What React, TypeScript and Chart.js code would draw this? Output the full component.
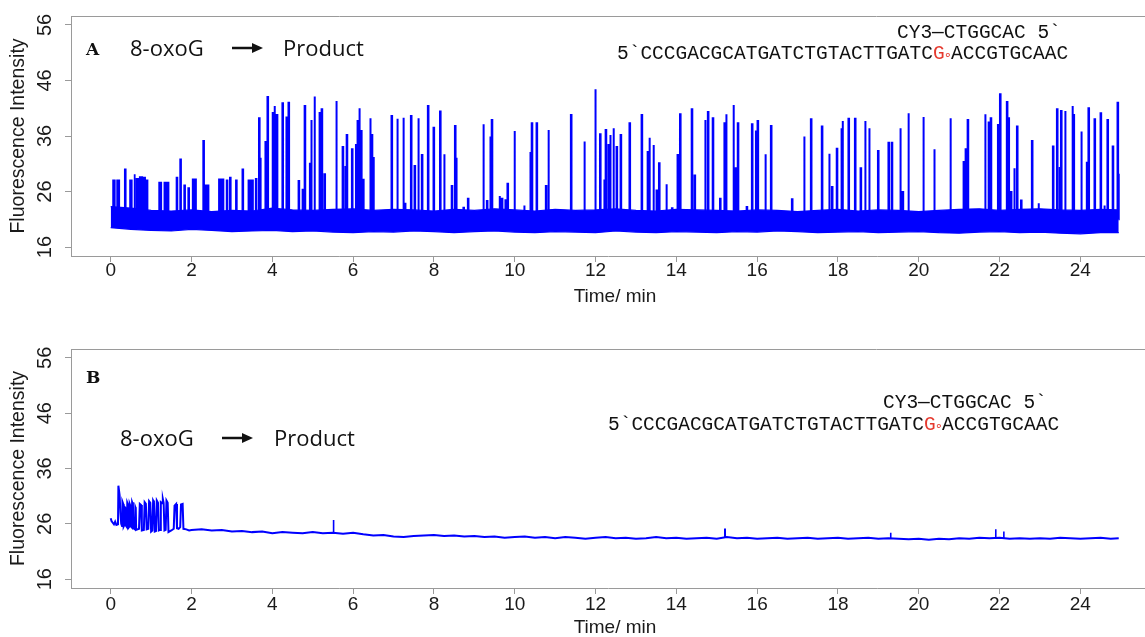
import React, { useEffect, useRef } from "react";
import { Chart, registerables } from "chart.js";
Chart.register(...registerables);

// ---------- shared axis data ----------
const X_TICKS = [0, 2, 4, 6, 8, 10, 12, 14, 16, 18, 20, 22, 24];
const Y_TICKS = [16, 26, 36, 46, 56];
const X_MIN = -0.983;
const X_MAX = 25.6;
const Y_MIN = 14.4;
const Y_MAX = 57.6;

// ---------- Panel A ----------
const A_BAND_STEP = 0.5;
const A_BAND_END = 24.95;
const A_BAND_UPPER = [23.3, 23.0, 22.6, 22.5, 22.7, 22.4, 22.6, 22.5, 23.0, 22.7, 22.6, 22.8, 22.9, 22.6, 22.8, 22.7, 22.5, 22.8, 22.6, 22.9, 22.7, 22.5, 22.8, 22.6, 22.7, 22.9, 22.6, 22.5, 22.8, 22.7, 22.6, 22.5, 22.7, 22.6, 22.4, 22.6, 22.8, 22.5, 22.7, 22.6, 22.4, 22.6, 22.8, 22.9, 22.6, 22.8, 22.9, 22.7, 22.6, 22.8, 22.7];
const A_BAND_LOWER = [19.5, 19.2, 19.0, 18.9, 19.2, 19.0, 18.8, 18.9, 19.0, 18.8, 18.9, 18.7, 18.6, 18.8, 18.7, 18.9, 18.8, 18.6, 18.8, 18.9, 18.7, 18.6, 18.8, 18.7, 18.6, 18.9, 18.7, 18.6, 18.8, 18.7, 18.6, 18.8, 18.7, 18.9, 18.8, 18.6, 18.7, 18.8, 18.6, 18.7, 18.8, 18.6, 18.5, 18.7, 18.8, 18.6, 18.7, 18.5, 18.4, 18.6, 18.6];
const A_BASE = 21.0;

// early square pulses: start time, duration (min), level
const A_PULSE_TIMES = [0.06, 0.16, 0.35, 0.48, 0.58, 0.64, 0.72, 0.80, 0.87, 1.20, 1.33, 1.63, 1.72, 1.82, 1.92, 2.03, 2.29, 2.35, 2.68, 2.87, 2.95, 3.10, 3.26, 3.41, 3.59];
const A_PULSE_DURS = [0.04, 0.05, 0.02, 0.04, 0.02, 0.05, 0.06, 0.05, 0.04, 0.05, 0.10, 0.02, 0.02, 0.02, 0.02, 0.08, 0.02, 0.07, 0.11, 0.02, 0.02, 0.02, 0.02, 0.11, 0.02];
const A_PULSE_LEVELS = [28.0, 28.0, 30.0, 28.0, 29.1, 28.3, 28.6, 28.5, 28.0, 27.6, 27.6, 28.5, 31.8, 27.1, 26.6, 28.2, 35.1, 27.1, 28.2, 28.0, 28.5, 28.0, 30.0, 28.0, 28.3];

// spikes: time (min), peak
const A_SPIKE_TIMES = [3.67, 3.70, 3.82, 3.88, 4.00, 4.05, 4.11, 4.25, 4.34, 4.40, 4.65, 4.74, 4.80, 4.93, 4.96, 5.04, 5.16, 5.22, 5.29, 5.58, 5.74, 5.80, 5.84, 5.97, 6.07, 6.10, 6.15, 6.20, 6.25, 6.42, 6.46, 6.50, 6.95, 7.09, 7.24, 7.28, 7.43, 7.52, 7.61, 7.70, 7.85, 7.99, 8.15, 8.25, 8.44, 8.52, 8.55, 8.73, 8.84, 9.22, 9.31, 9.39, 9.43, 9.62, 9.68, 9.76, 9.82, 9.99, 10.23, 10.38, 10.42, 10.54, 10.77, 10.83, 11.39, 11.72, 11.99, 12.11, 12.22, 12.25, 12.32, 12.36, 12.44, 12.52, 12.62, 12.84, 13.14, 13.29, 13.33, 13.43, 13.51, 13.57, 13.75, 13.89, 14.03, 14.09, 14.38, 14.45, 14.71, 14.78, 14.90, 15.08, 15.19, 15.23, 15.41, 15.47, 15.52, 15.74, 15.87, 15.97, 16.01, 16.20, 16.34, 16.86, 17.16, 17.33, 17.60, 17.78, 17.85, 17.97, 18.08, 18.11, 18.26, 18.42, 18.56, 18.67, 18.77, 18.99, 19.25, 19.33, 19.54, 19.60, 19.74, 20.11, 20.38, 20.78, 21.10, 21.16, 21.21, 21.64, 21.72, 21.78, 21.96, 22.01, 22.18, 22.22, 22.28, 22.36, 22.43, 22.53, 22.80, 22.96, 23.32, 23.42, 23.48, 23.52, 23.62, 23.80, 23.83, 24.02, 24.16, 24.20, 24.35, 24.50, 24.59, 24.67, 24.80, 24.92, 24.94];
const A_SPIKE_PEAKS = [39.2, 32.1, 35.1, 43.0, 40.3, 41.4, 39.8, 41.9, 39.5, 42.0, 27.9, 26.5, 41.4, 31.0, 38.9, 43.1, 40.3, 40.8, 29.1, 42.3, 34.0, 30.6, 36.2, 33.6, 34.4, 38.9, 41.0, 37.1, 28.3, 39.2, 36.2, 32.2, 39.6, 39.1, 39.3, 23.8, 39.6, 30.6, 39.2, 32.6, 41.4, 37.5, 40.4, 32.7, 27.0, 37.8, 32.1, 23.1, 24.7, 38.1, 24.3, 35.9, 38.9, 25.2, 24.7, 24.6, 27.4, 36.9, 23.5, 33.1, 38.3, 38.3, 27.0, 37.1, 39.8, 35.0, 44.4, 36.3, 28.0, 37.1, 34.4, 36.2, 37.4, 34.0, 36.2, 38.3, 39.8, 33.1, 35.7, 34.4, 26.2, 31.1, 27.3, 23.0, 32.6, 39.9, 40.8, 28.9, 38.9, 40.3, 39.2, 24.7, 38.3, 39.9, 41.6, 30.2, 38.3, 23.2, 38.1, 36.8, 38.7, 32.7, 37.8, 24.6, 35.9, 39.0, 37.7, 32.8, 26.8, 33.7, 37.4, 38.7, 39.1, 39.1, 30.2, 38.7, 37.4, 33.3, 34.8, 34.8, 37.4, 25.9, 40.1, 39.4, 33.6, 39.2, 31.5, 33.6, 38.9, 39.9, 38.6, 39.2, 38.0, 43.5, 42.1, 39.2, 25.9, 30.2, 37.7, 24.4, 35.1, 23.9, 34.1, 40.8, 30.4, 40.5, 40.5, 41.4, 39.8, 36.8, 31.2, 41.0, 39.0, 40.1, 23.5, 38.9, 34.1, 42.0, 29.2];
const A_SPIKE_DUR = 0.015;

// ---------- Panel B ----------
const B_EARLY_TIMES = [0.00, 0.02, 0.05, 0.08, 0.11, 0.14, 0.18, 0.19, 0.22, 0.24, 0.26, 0.28, 0.29, 0.31, 0.32, 0.34, 0.35, 0.37, 0.38, 0.40, 0.41, 0.43, 0.44, 0.46, 0.47, 0.49, 0.50, 0.52, 0.53, 0.55, 0.56, 0.60, 0.61, 0.62, 0.63, 0.70, 0.72, 0.75, 0.77, 0.82, 0.84, 0.87, 0.89, 0.93, 0.95, 0.98, 1.00, 1.03, 1.05, 1.07, 1.09, 1.12, 1.14, 1.17, 1.19, 1.22, 1.24, 1.27, 1.29, 1.31, 1.33, 1.36, 1.38, 1.41, 1.43, 1.50, 1.56, 1.58, 1.62, 1.64, 1.68, 1.72, 1.74, 1.78, 1.80, 1.87, 1.94];
const B_EARLY_VALUES = [27.0, 26.5, 26.2, 25.9, 26.4, 25.8, 25.9, 32.9, 31.2, 28.0, 26.0, 25.6, 30.0, 29.6, 25.5, 25.8, 29.0, 28.8, 25.6, 25.4, 29.8, 29.4, 25.3, 25.5, 29.6, 29.2, 25.6, 25.4, 29.9, 29.5, 25.2, 25.0, 29.0, 28.8, 24.9, 25.1, 29.6, 29.4, 24.8, 24.9, 29.9, 29.6, 25.0, 25.1, 30.1, 29.8, 24.6, 24.8, 30.2, 29.9, 24.6, 24.7, 30.2, 29.8, 24.8, 24.9, 29.9, 29.7, 30.5, 29.8, 24.8, 24.9, 30.2, 29.8, 24.5, 24.8, 25.1, 29.3, 29.6, 25.2, 25.1, 25.4, 29.5, 29.6, 25.1, 25.0, 24.8];
const B_BASE_START = 2.0;
const B_BASE_STEP = 0.25;
const B_BASE_END = 24.95;
const B_BASE_VALUES = [24.9, 25.0, 24.8, 24.9, 24.6, 24.7, 24.5, 24.6, 24.3, 24.5, 24.4, 24.3, 24.5, 24.3, 24.4, 24.2, 24.4, 24.1, 23.9, 24.0, 23.7, 23.6, 23.8, 23.9, 24.0, 23.8, 23.9, 23.7, 23.8, 23.6, 23.7, 23.5, 23.6, 23.7, 23.5, 23.6, 23.4, 23.6, 23.5, 23.3, 23.5, 23.6, 23.4, 23.5, 23.3, 23.4, 23.6, 23.4, 23.5, 23.3, 23.4, 23.5, 23.3, 23.6, 23.4, 23.5, 23.3, 23.4, 23.5, 23.3, 23.4, 23.5, 23.3, 23.4, 23.5, 23.3, 23.4, 23.5, 23.3, 23.4, 23.3, 23.2, 23.3, 23.1, 23.3, 23.2, 23.4, 23.3, 23.5, 23.4, 23.5, 23.3, 23.4, 23.3, 23.4, 23.3, 23.5, 23.4, 23.3, 23.4, 23.5, 23.3, 23.4];
const B_SPIKE_TIMES = [5.51, 15.20, 19.30, 21.90, 22.10];
const B_SPIKE_PEAKS = [26.7, 25.0, 24.4, 25.0, 24.6];

// ---------- builders ----------
type Pt = { x: number; y: number | null };

function bandPoints(vals: number[]): Pt[] {
  return vals.map((v, i) => ({ x: Math.min(i * A_BAND_STEP, A_BAND_END), y: v }));
}

function pulsePoints(times: number[], durs: number[], peaks: number[], bases: number[]): Pt[] {
  const out: Pt[] = [];
  times.forEach((t, i) => {
    const d = durs[i];
    out.push({ x: t, y: bases[i] }, { x: t, y: peaks[i] }, { x: t + d, y: peaks[i] }, { x: t + d, y: bases[i] }, { x: t + d, y: null });
  });
  return out;
}

function bTrace(): Pt[] {
  const pts: Pt[] = B_EARLY_TIMES.map((t, i) => ({ x: t, y: B_EARLY_VALUES[i] }));
  B_BASE_VALUES.forEach((v, i) => pts.push({ x: Math.min(B_BASE_START + i * B_BASE_STEP, B_BASE_END), y: v }));
  return pts;
}

function bBaseAt(t: number): number {
  const i = Math.round((t - B_BASE_START) / B_BASE_STEP);
  return B_BASE_VALUES[Math.max(0, Math.min(B_BASE_VALUES.length - 1, i))];
}

const BLUE = "#0000ff";
const AXIS_GREY = "#9a9a9a";
const SANS = '"Liberation Sans", Arial, sans-serif';
const MONO = '"Liberation Mono", "Courier New", monospace';
const LABEL = '"Open Sans", sans-serif';

type PanelCfg = {
  top: number;
  height: number;
  areaTop: number;
  areaBottom: number;
  letter: string;
  letterBase: number;
  reactBase: number;
  reactX: number;
  arrowX1: number;
  arrowX2: number;
  arrowY: number;
  productX: number;
  seq1X: number;
  seq1Base: number;
  seq2X: number;
  seq2Base: number;
  tickLabelY: number;
  titleY: number;
};

const PANEL_A: PanelCfg = {
  top: 0, height: 318, areaTop: 16, areaBottom: 256,
  letter: "A", letterBase: 55, reactBase: 56, reactX: 130, arrowX1: 232, arrowX2: 263, arrowY: 48, productX: 283,
  seq1X: 897, seq1Base: 38, seq2X: 617, seq2Base: 59, tickLabelY: 271, titleY: 297,
};
const PANEL_B: PanelCfg = {
  top: 318, height: 319, areaTop: 31, areaBottom: 270,
  letter: "B", letterBase: 65, reactBase: 128, reactX: 120, arrowX1: 222, arrowX2: 253, arrowY: 120, productX: 274,
  seq1X: 883, seq1Base: 90, seq2X: 608, seq2Base: 112, tickLabelY: 287, titleY: 310,
};

function textPlugin(p: PanelCfg) {
  return {
    id: "panelText" + p.letter,
    afterDraw(chart: any) {
      const ctx = chart.ctx as CanvasRenderingContext2D;
      const area = chart.chartArea;
      const xs = chart.scales.x;
      const ys = chart.scales.y;
      ctx.save();
      // box top
      ctx.strokeStyle = AXIS_GREY;
      ctx.lineWidth = 1;
      ctx.beginPath();
      ctx.moveTo(area.left, area.top + 0.5);
      ctx.lineTo(area.right, area.top + 0.5);
      ctx.stroke();

      ctx.fillStyle = "#1a1a1a";
      // x tick labels
      ctx.font = `19px ${SANS}`;
      ctx.textAlign = "center";
      ctx.textBaseline = "middle";
      X_TICKS.forEach((v) => ctx.fillText(String(v), xs.getPixelForValue(v), p.tickLabelY));
      // x title
      ctx.fillText("Time/ min", 615, p.titleY);
      // y tick labels (rotated)
      Y_TICKS.forEach((v) => {
        ctx.save();
        ctx.translate(45, ys.getPixelForValue(v));
        ctx.rotate(-Math.PI / 2);
        ctx.font = `20px ${SANS}`;
        ctx.fillText(String(v), 0, 0);
        ctx.restore();
      });
      // y title
      ctx.save();
      ctx.translate(19, (area.top + area.bottom) / 2);
      ctx.rotate(-Math.PI / 2);
      ctx.font = `19.5px ${SANS}`;
      ctx.fillText("Fluorescence Intensity", 0, 0);
      ctx.restore();

      // panel letter
      ctx.textAlign = "left";
      ctx.textBaseline = "alphabetic";
      ctx.fillStyle = "#111";
      ctx.font = `bold 17px "DejaVu Serif", serif`;
      ctx.fillText(p.letter, 86, p.letterBase);

      // reaction
      ctx.font = `22px ${LABEL}`;
      ctx.fillText("8-oxoG", p.reactX, p.reactBase);
      ctx.fillText("Product", p.productX, p.reactBase);
      ctx.strokeStyle = "#111";
      ctx.lineWidth = 2.5;
      ctx.beginPath();
      ctx.moveTo(p.arrowX1, p.arrowY);
      ctx.lineTo(p.arrowX2 - 8, p.arrowY);
      ctx.stroke();
      ctx.beginPath();
      ctx.moveTo(p.arrowX2, p.arrowY);
      ctx.lineTo(p.arrowX2 - 11, p.arrowY - 5);
      ctx.lineTo(p.arrowX2 - 11, p.arrowY + 5);
      ctx.closePath();
      ctx.fill();

      // sequences
      ctx.font = `19.5px ${MONO}`;
      ctx.fillText("CY3\u2014CTGGCAC 5`", p.seq1X, p.seq1Base);
      const pre = "5`CCCGACGCATGATCTGTACTTGATC";
      ctx.fillText(pre, p.seq2X, p.seq2Base);
      const gx = p.seq2X + ctx.measureText(pre).width;
      const cw = ctx.measureText("C").width;
      ctx.fillStyle = "#e53a2f";
      ctx.fillText("G", gx, p.seq2Base);
      ctx.font = `13px "DejaVu Sans", sans-serif`;
      ctx.fillText("\u2218", gx + cw - 1, p.seq2Base);
      ctx.fillStyle = "#111";
      ctx.font = `19.5px ${MONO}`;
      ctx.fillText("ACCGTGCAAC", gx + cw * 1.55, p.seq2Base);
      ctx.restore();
    },
  };
}

function makeConfig(p: PanelCfg, datasets: any[]): any {
  return {
    type: "line",
    data: { datasets },
    options: {
      animation: false,
      responsive: false,
      devicePixelRatio: 1,
      parsing: false,
      normalized: true,
      layout: { padding: { top: p.areaTop, left: 0, right: 0, bottom: 0 } },
      plugins: { legend: { display: false }, tooltip: { enabled: false }, title: { display: false } },
      elements: { point: { radius: 0 }, line: { tension: 0 } },
      scales: {
        x: {
          type: "linear",
          min: X_MIN,
          max: X_MAX,
          afterBuildTicks: (s: any) => { s.ticks = X_TICKS.map((v) => ({ value: v })); },
          afterFit: (s: any) => { s.height = p.height - p.areaBottom; },
          ticks: { display: false },
          grid: { display: true, drawOnChartArea: false, drawTicks: true, tickLength: 6, color: AXIS_GREY },
          border: { display: true, color: AXIS_GREY },
        },
        y: {
          type: "linear",
          min: Y_MIN,
          max: Y_MAX,
          afterBuildTicks: (s: any) => { s.ticks = Y_TICKS.map((v) => ({ value: v })); },
          afterFit: (s: any) => { s.width = 71; },
          ticks: { display: false },
          grid: { display: true, drawOnChartArea: false, drawTicks: true, tickLength: 6, color: AXIS_GREY },
          border: { display: true, color: AXIS_GREY },
        },
      },
    },
    plugins: [textPlugin(p)],
  };
}

function Panel({ p, datasets }: { p: PanelCfg; datasets: () => any[] }) {
  const ref = useRef<HTMLCanvasElement | null>(null);
  useEffect(() => {
    if (!ref.current) return;
    const chart = new Chart(ref.current, makeConfig(p, datasets()));
    return () => chart.destroy();
  }, []);
  return (
    <canvas
      ref={ref}
      width={1145}
      height={p.height}
      style={{ position: "absolute", left: 0, top: p.top, width: 1145, height: p.height, display: "block" }}
    />
  );
}

const datasetsA = () => [
  { data: bandPoints(A_BAND_UPPER), borderColor: BLUE, backgroundColor: BLUE, borderWidth: 1.2, fill: "+1", pointRadius: 0 },
  { data: bandPoints(A_BAND_LOWER), borderColor: BLUE, backgroundColor: BLUE, borderWidth: 1.2, fill: false, pointRadius: 0 },
  {
    data: pulsePoints(A_PULSE_TIMES, A_PULSE_DURS, A_PULSE_LEVELS, A_PULSE_TIMES.map(() => A_BASE)),
    borderColor: BLUE, backgroundColor: BLUE, borderWidth: 1.8, fill: { value: A_BASE }, spanGaps: false, pointRadius: 0,
  },
  {
    data: pulsePoints(A_SPIKE_TIMES, A_SPIKE_TIMES.map(() => A_SPIKE_DUR), A_SPIKE_PEAKS, A_SPIKE_TIMES.map(() => A_BASE)),
    borderColor: BLUE, backgroundColor: BLUE, borderWidth: 2, fill: { value: A_BASE }, spanGaps: false, pointRadius: 0,
  },
];

const datasetsB = () => [
  { data: bTrace(), borderColor: BLUE, borderWidth: 2, fill: false, pointRadius: 0 },
  {
    data: pulsePoints(B_SPIKE_TIMES, B_SPIKE_TIMES.map(() => 0.01), B_SPIKE_PEAKS, B_SPIKE_TIMES.map((t) => bBaseAt(t))),
    borderColor: BLUE, borderWidth: 1.6, fill: false, spanGaps: false, pointRadius: 0,
  },
];

export default function App() {
  return (
    <div style={{ position: "absolute", left: 0, top: 0, width: 1145, height: 637, background: "#fff", overflow: "hidden" }}>
      <Panel p={PANEL_A} datasets={datasetsA} />
      <Panel p={PANEL_B} datasets={datasetsB} />
    </div>
  );
}
